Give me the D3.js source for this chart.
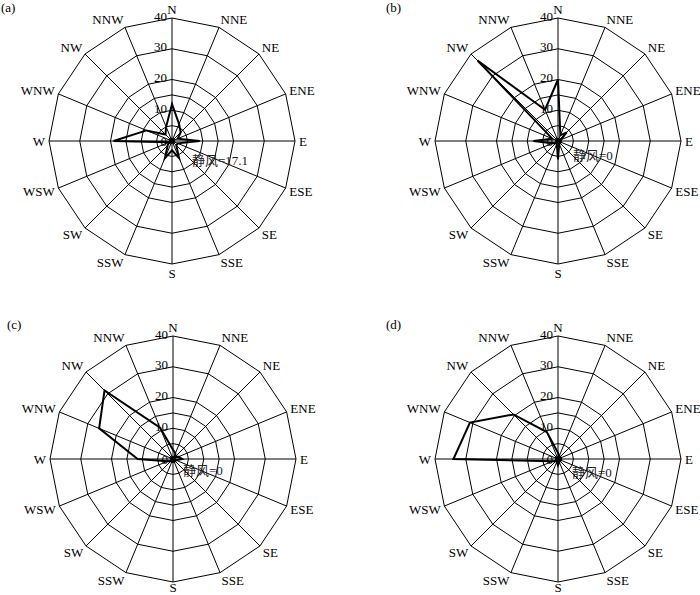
<!DOCTYPE html>
<html>
<head>
<meta charset="utf-8">
<script src="https://cdn.jsdelivr.net/npm/d3@7"></script>
<style>
  html, body { margin: 0; padding: 0; background: #fff; }
  svg { display: block; }
  text { font-family: "Liberation Serif", "Times New Roman", Times, "Noto Sans CJK SC", serif; }
</style>
</head>
<body>
<svg id="chart" width="700" height="595"></svg>
<script>
// ---------- data ----------
const directions = ["N","NNE","NE","ENE","E","ESE","SE","SSE","S","SSW","SW","WSW","W","WNW","NW","NNW"];
const ringValues = [5, 10, 15, 20, 30, 40];
const tickLabels = [0, 10, 20, 30, 40];
const panelLabels = ["(a)", "(b)", "(c)", "(d)"];
const calmLabels = ["静风=17.1", "静风=0", "静风=0", "静风=0"];

const seriesA = [12, 6, 4, 2, 9, 2, 2, 6, 3, 6, 2, 1, 19, 9, 3, 5];
const seriesB = [20, 2, 4, 1, 1, 1, 1, 1, 6, 1, 1, 2, 8, 2, 37, 11];
const seriesC = [3, 2, 1, 2, 3, 1, 1, 1, 1, 1, 1, 2, 11.5, 26, 31.5, 11];
const seriesD = [2, 1, 1, 1, 1, 1, 1, 1, 2, 1, 1, 2, 34, 31, 20.5, 9.5];
const allSeries = [seriesA, seriesB, seriesC, seriesD];

// ---------- layout ----------
const panels = [
  { cx: 172, cy: 141, lx: 1,   ly: 7,   calmDx: 20, calmDy: 19, sOff: 9 },
  { cx: 558, cy: 141, lx: 386, ly: 7,   calmDx: 15, calmDy: 14, sOff: 9 },
  { cx: 173, cy: 459, lx: 7,   ly: 324, calmDx: 10, calmDy: 11, sOff: 5 },
  { cx: 558, cy: 459, lx: 386, ly: 324, calmDx: 14, calmDy: 13, sOff: 5 }
];
const R = 123;

const svg = d3.select("#chart");
const rScale = d3.scaleLinear().domain([0, 40]).range([0, R]);
const aScale = d3.scaleLinear().domain([0, directions.length]).range([0, 2 * Math.PI]);

const ringLine = d3.lineRadial()
  .angle((d, i) => aScale(i))
  .radius(d => rScale(d))
  .curve(d3.curveLinearClosed);

panels.forEach((p, k) => {
  const g = svg.append("g").attr("transform", `translate(${p.cx},${p.cy})`);

  // rings
  ringValues.forEach(v => {
    g.append("path")
      .attr("d", ringLine(directions.map(() => v)))
      .attr("fill", "none")
      .attr("stroke", "#000")
      .attr("stroke-width", 1);
  });

  // spokes
  directions.forEach((d, i) => {
    const a = aScale(i);
    g.append("line")
      .attr("x1", 0).attr("y1", 0)
      .attr("x2", rScale(40) * Math.sin(a))
      .attr("y2", -rScale(40) * Math.cos(a))
      .attr("stroke", "#000")
      .attr("stroke-width", 1);
  });

  // direction labels
  directions.forEach((d, i) => {
    const a = aScale(i);
    const s = Math.sin(a), c = Math.cos(a);
    const anchor = s > 0.1 ? "start" : (s < -0.1 ? "end" : "middle");
    g.append("text")
      .attr("x", (R + 4) * s)
      .attr("y", c < -0.99 ? R + p.sOff : -(R + 9) * c)
      .attr("text-anchor", anchor)
      .attr("dominant-baseline", "central")
      .attr("font-size", 13)
      .attr("fill", "#000")
      .text(d);
  });

  // tick labels
  tickLabels.forEach(v => {
    g.append("text")
      .attr("x", -5)
      .attr("y", -rScale(v) - (v === 0 ? 0 : 2))
      .attr("text-anchor", "end")
      .attr("dominant-baseline", "central")
      .attr("font-size", 13)
      .attr("fill", "#000")
      .text(v);
  });

  // data polygon
  g.append("path")
    .attr("d", ringLine(allSeries[k]))
    .attr("fill", "none")
    .attr("stroke", "#000")
    .attr("stroke-width", 2)
    .attr("stroke-linejoin", "miter");

  // centre dot
  g.append("circle").attr("r", 3).attr("fill", "#000");

  // calm label
  g.append("text")
    .attr("x", p.calmDx)
    .attr("y", p.calmDy)
    .attr("dominant-baseline", "central")
    .attr("font-size", 13)
    .attr("fill", "#222")
    .text(calmLabels[k]);

  // panel label
  svg.append("text")
    .attr("x", p.lx)
    .attr("y", p.ly)
    .attr("dominant-baseline", "central")
    .attr("font-size", 13)
    .attr("fill", "#000")
    .text(panelLabels[k]);
});
</script>
</body>
</html>
